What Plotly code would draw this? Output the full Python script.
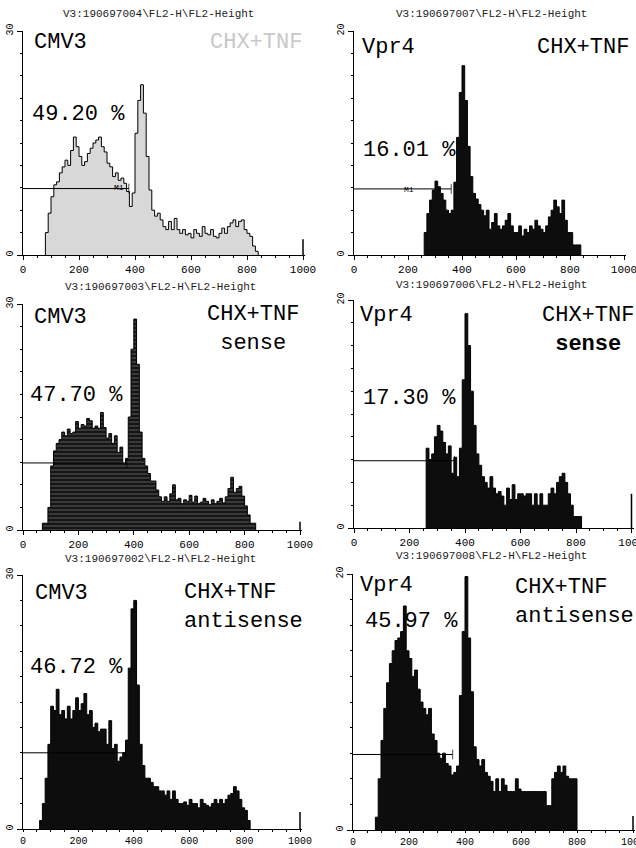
import plotly.graph_objects as go

W, H = 636, 848
BIN = 10

# ---------------- data (counts per 10-channel bin) ----------------
p1_start = 80
p1_counts = [3, 5.6, 7.8, 9.4, 9.8, 11, 11.8, 12.7, 12, 14, 15.8, 14.5, 13.2, 12, 12.5, 13.6,
             14.3, 15, 15.4, 15.8, 14.5, 13.8, 12.3, 11.8, 10.5, 11, 10, 10.3, 9.6, 8.5, 6.5, 8.3,
             16.3, 20.7, 22.8, 19, 13.2, 8.7, 6, 5.2, 5.6, 4.7, 3.8, 3.4, 4.5, 3.4, 4.9, 3.4,
             2.9, 3.4, 2.7, 2.9, 2.3, 3.4, 2.9, 2.5, 3.8, 2.9, 2.7, 3.4, 2.5, 2.3, 2.9, 3.6,
             2.9, 3.8, 4.3, 4.7, 3.8, 4.5, 4.7, 3.4, 2.9, 2.5, 1.2, 0.5]

p2_start = 260
p2_counts = [2, 3.7, 4.9, 5.8, 6.6, 6.1, 5.5, 4.9, 4.0, 3.7, 4.0, 6.5, 10.5, 14.5, 16.9, 13.8,
             9.7, 7.0, 5.5, 5.0, 4.5, 4.0, 3.5, 4.0, 2.3, 2.9, 3.7, 2.6, 2.3, 2.6, 3.1, 3.7,
             2.6, 2.0, 2.0, 2.6, 1.7, 2.3, 2.0, 2.6, 2.3, 3.1, 2.6, 2.3, 2.0, 2.6, 3.4, 4.0,
             4.9, 4.3, 3.7, 4.9, 3.1, 2.0, 2.0, 0.9, 0.9, 0.9]

p3_start = 70
p3_counts = [0.9, 0.9, 3, 8.5, 10.5, 11.5, 12, 13, 12.5, 13.4, 12.8, 13, 14.4, 13.5, 14, 13.8,
             14.8, 14.5, 13.5, 13.8, 13.5, 15.6, 13.6, 12.2, 12.8, 11.5, 12.5, 10.3, 11, 8.8,
             9.5, 15, 24, 28, 22, 13, 9.5, 8.5, 7.5, 6.5, 6.5, 5.3, 4.4, 3.8, 4.4, 3.8, 4.8,
             6.0, 4, 4.2, 3.5, 4, 3.8, 4.6, 3.7, 4.5, 3.5, 3.7, 4.2, 3.8, 3.4, 4.0, 3.5, 3.8,
             4.2, 3.6, 4.4, 5.5, 7, 5, 5.5, 5.8, 4.5, 3.2, 2.0, 0.9, 0.9]

p4_start = 260
p4_counts = [7.0, 6.0, 6.5, 8.0, 9.0, 8.5, 7.5, 6.5, 7.2, 4.8, 6.2, 4.5, 7.0, 13, 18.8, 16,
             12, 9, 6.5, 5.5, 4.5, 4.0, 3.5, 4.5, 3.5, 3.0, 3.2, 2.8, 2.0, 3.5, 2.5, 3.8, 2.5,
             3.0, 3.0, 2.8, 3.0, 3.0, 2.0, 3.0, 2.0, 3.0, 2.0, 2.0, 3.0, 3.5, 3.0, 4.0, 4.5,
             4.8, 4.0, 3.0, 2.0, 1.0, 1.0, 1.0]

p5_start = 60
p5_counts = [1, 3, 6, 10, 14.5, 14, 16.5, 13.5, 14, 13, 14.5, 13, 14, 15.5, 14, 14.8, 16, 13.5,
             14, 12, 12.5, 11.5, 11.8, 11.8, 10, 12.8, 9.5, 10, 8, 8.5, 9, 10.5, 19, 26, 27, 17,
             10, 7.5, 6, 6, 5.5, 5, 5, 4.5, 4.5, 4.0, 4.5, 3.5, 4.5, 3.5, 3.0, 3.0, 3.2, 2.8,
             3.5, 3.0, 3.0, 2.5, 3.5, 3.0, 2.8, 2.6, 3.0, 3.5, 3.0, 3.5, 3.0, 3.5, 4.0, 4.2,
             5.0, 4.5, 3.5, 2.5, 2.2, 1.0]

p6_start = 80
p6_counts = [1, 4, 7, 9.5, 11.5, 13, 14, 14.8, 15, 15.5, 17.5, 14, 13.4, 12, 12.5, 11, 10, 9.5,
             9, 9.5, 7.5, 7, 6, 5.6, 6, 5.2, 5, 4.3, 4.5, 5, 10.5, 15.5, 19.8, 15, 10.8, 6.5,
             5.5, 5, 5.5, 4.5, 4.2, 3.8, 3.0, 4.0, 3.0, 4.0, 3.5, 3.0, 3.0, 3.0, 4.0, 3.2, 3.0,
             3.0, 3.0, 3.0, 3.0, 3.0, 3.0, 3.0, 3.0, 1.9, 1.9, 4.0, 4.5, 5.0, 4.5, 5.0, 4.2,
             4.0, 4.0, 4.0]

starts = [p1_start, p2_start, p3_start, p4_start, p5_start, p6_start]
counts = [p1_counts, p2_counts, p3_counts, p4_counts, p5_counts, p6_counts]
y_max = [30, 20, 30, 20, 30, 20]
overflow_x = 1000
overflow_counts = [2.1, 0, 1.1, 3.0, 2.0, 1.1]
gate_level = [8.9, 5.9, 8.9, 5.9, 9.0, 5.9]
gate_end = [378, 360, 375, 362, 370, 356]
percents = ["49.20 %", "16.01 %", "47.70 %", "17.30 %", "46.72 %", "45.97 %"]
cell_lines = ["CMV3", "Vpr4", "CMV3", "Vpr4", "CMV3", "Vpr4"]
treatments = ["CHX+TNF", "CHX+TNF", "CHX+TNF<br>sense", "CHX+TNF<br><b>sense</b>",
              "CHX+TNF<br>antisense", "CHX+TNF<br>antisense"]
file_titles = ["V3:190697004\\FL2-H\\FL2-Height", "V3:190697007\\FL2-H\\FL2-Height",
               "V3:190697003\\FL2-H\\FL2-Height", "V3:190697006\\FL2-H\\FL2-Height",
               "V3:190697002\\FL2-H\\FL2-Height", "V3:190697008\\FL2-H\\FL2-Height"]
x_ticks = [0, 200, 400, 600, 800, 1000]

# ---------------- layout geometry (pixels) ----------------
# (x0 px, px per unit, baseline px, top px)
geom = [(23, 0.280, 255, 31), (354, 0.270, 255, 31),
        (23, 0.277, 530, 304), (354, 0.2775, 528, 300),
        (23, 0.277, 829, 575), (353, 0.280, 830, 574)]
title_pos = [(158, 14), (491, 14), (160, 287), (491, 285), (160, 559), (491, 556)]
line_pos = [(32, 43), (360, 47), (32, 317), (358, 315), (33, 593), (358, 585)]
pct_pos = [(30, 115), (361, 150), (28, 395), (361, 398), (28, 667), (363, 622)]
treat_pos = [(304, 43, "right", "middle"), (631, 47, "right", "middle"),
             (205, 300, "left", "top"), (540, 301, "left", "top"),
             (182, 578, "left", "top"), (513, 573, "left", "top")]
XR = 1008
FONT = "Liberation Mono"

fig = go.Figure()
annotations = []


def px(x, y):
    return x / W, (H - y) / H


for i in range(6):
    n = i + 1
    xa = "x" if n == 1 else f"x{n}"
    ya = "y" if n == 1 else f"y{n}"
    s = starts[i]
    c = counts[i]
    xs = [s] + [s + k * BIN for k in range(len(c))] + [s + len(c) * BIN]
    ys = [0] + list(c) + [0]
    tr = dict(x=xs, y=ys, mode="lines", line=dict(color="black", width=1, shape="hv"),
              fill="tozeroy", xaxis=xa, yaxis=ya, showlegend=False, hoverinfo="skip")
    if i == 0:
        tr["fillcolor"] = "#d8d8d8"
    elif i == 2:
        tr["fillcolor"] = "#151515"
        tr["fillpattern"] = dict(shape="-", bgcolor="#151515", fgcolor="#8a8a8a",
                                 size=4, solidity=0.3)
    else:
        tr["fillcolor"] = "#0d0d0d"
    fig.add_trace(go.Scatter(**tr))
    # overflow channel
    if overflow_counts[i] > 0:
        fig.add_trace(go.Scatter(x=[overflow_x, overflow_x], y=[0, overflow_counts[i]],
                                 mode="lines", line=dict(color="black", width=1.5),
                                 xaxis=xa, yaxis=ya, showlegend=False, hoverinfo="skip"))
    # marker gate M1
    fig.add_trace(go.Scatter(x=[0, gate_end[i]], y=[gate_level[i], gate_level[i]],
                             mode="lines+markers", line=dict(color="black", width=1),
                             marker=dict(symbol="line-ns-open", size=[0, 7],
                                         line=dict(color="black", width=1)),
                             xaxis=xa, yaxis=ya, showlegend=False, hoverinfo="skip"))

    x0, sc, base, top = geom[i]
    right = x0 + XR * sc
    ymax = y_max[i]
    bottom_row = i >= 4
    fig.layout[("xaxis" if n == 1 else f"xaxis{n}")] = dict(
        domain=[x0 / W, min(right / W, 1.0)], range=[0, XR], anchor=ya,
        showline=True, linecolor="black", linewidth=1, showgrid=False, zeroline=False,
        tickmode="array", tickvals=x_ticks, ticktext=[str(v) for v in x_ticks],
        ticks="outside", ticklen=2 if bottom_row else 4, tickcolor="black", tickwidth=1,
        tickfont=dict(family=FONT, size=10 if bottom_row else 11, color="black"),
        ticklabeloverflow="allow",
        minor=dict(tickmode="array", tickvals=list(range(0, 1001, 50)), ticks="outside",
                   ticklen=2, tickcolor="black", showgrid=False),
        automargin=False, fixedrange=True)
    fig.layout[("yaxis" if n == 1 else f"yaxis{n}")] = dict(
        domain=[(H - base) / H, (H - top) / H], range=[0, ymax], anchor=xa,
        showline=True, linecolor="black", linewidth=1, showgrid=False, zeroline=False,
        tickmode="array", tickvals=[0, ymax / 2, ymax], ticktext=["0", "", str(ymax)],
        ticks="outside", ticklen=5, tickcolor="black", tickwidth=1, tickangle=-90,
        tickfont=dict(family=FONT, size=10, color="black"),
        minor=dict(tickmode="array", tickvals=[ymax * k / 10 for k in range(11)],
                   ticks="outside", ticklen=2, tickcolor="black", showgrid=False),
        automargin=False, fixedrange=True)

    tx, ty = px(*title_pos[i])
    annotations.append(dict(text=file_titles[i], x=tx, y=ty, xref="paper", yref="paper",
                            showarrow=False, xanchor="center", yanchor="middle",
                            font=dict(family=FONT, size=11, color="#222")))
    lx, ly = px(*line_pos[i])
    annotations.append(dict(text=cell_lines[i], x=lx, y=ly, xref="paper", yref="paper",
                            showarrow=False, xanchor="left", yanchor="middle",
                            font=dict(family=FONT, size=22, color="black")))
    qx, qy = px(*pct_pos[i])
    annotations.append(dict(text=percents[i], x=qx, y=qy, xref="paper", yref="paper",
                            showarrow=False, xanchor="left", yanchor="middle",
                            font=dict(family=FONT, size=22, color="black")))
    tpx, tpy, xan, yan = treat_pos[i]
    tx2, ty2 = px(tpx, tpy)
    annotations.append(dict(text=treatments[i], x=tx2, y=ty2, xref="paper", yref="paper",
                            showarrow=False, xanchor=xan, yanchor=yan,
                            align="center" if i in (2, 3) else "left",
                            font=dict(family=FONT, size=22,
                                      color="#c8c8c8" if i == 0 else "black")))

# M1 labels
for (mx, my) in [(112, 181), (409, 183)]:
    ax, ay = px(mx, my)
    annotations.append(dict(text="M1", x=ax, y=ay, xref="paper", yref="paper", showarrow=False,
                            font=dict(family=FONT, size=8, color="black")))

fig.update_layout(width=W, height=H, margin=dict(l=0, r=0, t=0, b=0),
                  paper_bgcolor="white", plot_bgcolor="white", annotations=annotations,
                  showlegend=False)
fig.write_html("out.html", config={"displayModeBar": False},
               post_script="document.body.style.margin='0';document.body.style.overflow='hidden';")
